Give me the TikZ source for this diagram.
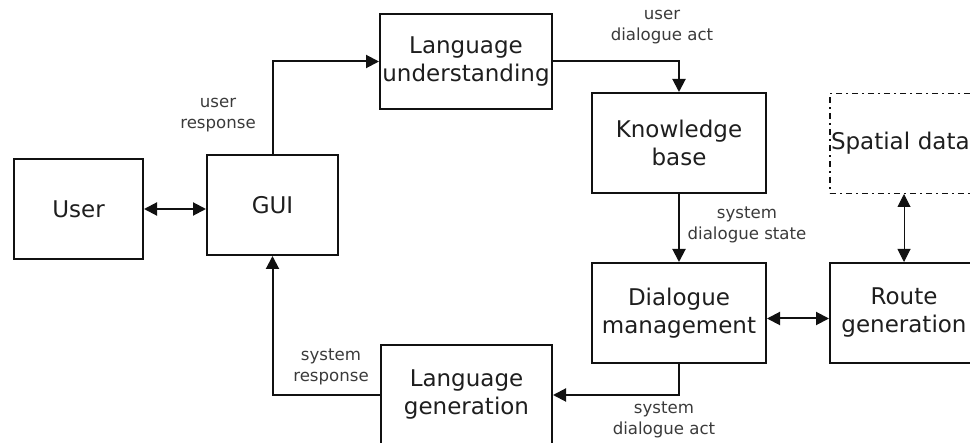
\documentclass[tikz,border=0pt]{standalone}
\usepackage{fontspec}
\setmainfont{DejaVu Sans}
\usepackage{tikz}
\usetikzlibrary{positioning,arrows.meta}
\definecolor{blk}{HTML}{111111}
\definecolor{txt}{HTML}{1E1E1E}
\definecolor{lbl}{HTML}{3A3A3A}
\tikzset{
  >={Triangle[length=6.5pt,width=6.5pt]},
  box/.style={draw=blk, line width=1pt, minimum height=50pt, minimum width=87pt,
              inner sep=1pt, align=center, text=txt,
              font=\fontsize{11.5}{14}\selectfont},
  ext/.style={box, dash dot, line width=0.7pt},
  sig/.style={align=center, text=lbl, inner sep=1pt, font=\fontsize{8.3}{10.5}\selectfont},
  l/.style={->, line width=1pt, draw=blk},
}
\begin{document}
\begin{tikzpicture}[x=0.5pt, y=0.5pt, node distance=34pt and 31pt]
  \useasboundingbox (0,0) rectangle (970,-443);
  \clip (0,0) rectangle (970,-443);
  % left column
  \node[box,minimum width=64.5pt] (user) at (78.5,-209) {User};
  \node[box,minimum width=65.5pt,right=of user,yshift=2pt] (gui) {GUI};
  \node[box,minimum height=47.5pt,minimum width=86pt] (lu) at (466,-61.5) {Language\\understanding};
  \node[box,minimum width=85.5pt] (lg) at (466.5,-395) {Language\\generation};
  % right column
  \node[box] (kb) at (679,-143) {Knowledge\\base};
  \node[box,below=of kb] (dm) {Dialogue\\management};
  \node[box,minimum width=74pt,right=of dm] (rg) {Route\\generation};
  \node[ext,minimum width=74pt,text width=73pt,inner xsep=0.5pt,align=left,above=of rg] (sd) {Spatial data};
  % signal labels
  \node[sig] (ur) at (218,-115) {user\\response};
  \node[sig] (uda) at (662,-27) {user\\dialogue act};
  \node[sig] (sds) at (747,-225) {system\\dialogue state};
  \node[sig] (sr) at (331,-367) {system\\response};
  \node[sig] (sda) at (664,-420) {system\\dialogue act};
  % connectors
  \draw[l,<->] (user.east) -- (user.east -| gui.west);
  \draw[l] (gui.north) |- (lu.west);
  \draw[l] (lu.east) -| (kb.north);
  \draw[l] (kb) -- (dm);
  \draw[l,<->] ([yshift=-2.75pt]dm.east) -- ([yshift=-2.75pt]dm.east -| rg.west);
  \draw[l,<->,line width=0.5pt] (sd) -- (rg);
  \draw[l] (dm.south) |- (lg.east);
  \draw[l] (lg.west) -| (gui.south);
\end{tikzpicture}
\end{document}
